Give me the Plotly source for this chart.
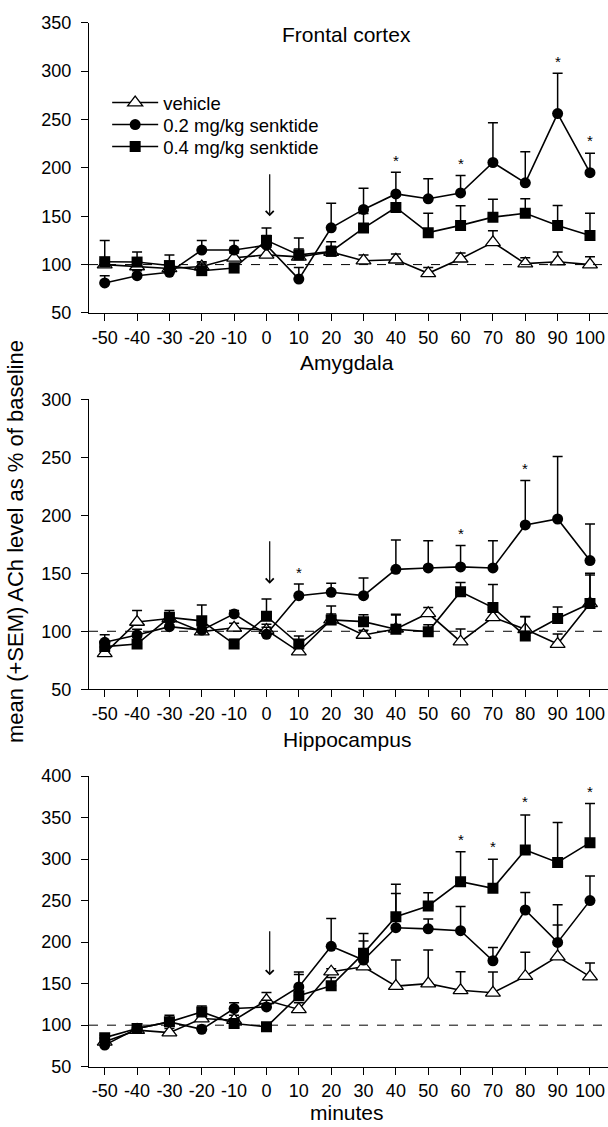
import plotly.graph_objects as go

minutes = [-50, -40, -30, -20, -10, 0, 10, 20, 30, 40, 50, 60, 70, 80, 90, 100]
x_tick_labels = ["-50", "-40", "-30", "-20", "-10", "0", "10", "20", "30", "40", "50", "60", "70", "80", "90", "100"]
series_names = ["vehicle", "0.2 mg/kg senktide", "0.4 mg/kg senktide"]
region_titles = ["Frontal cortex", "Amygdala", "Hippocampus"]

# Frontal cortex
fc_vehicle = [100, 98, 96, 98, 107, 110, 108, 113, 104, 105, 91, 106, 123, 101, 103, 100]
fc_vehicle_sem = [5, 4, 4, 5, 5, 8, 8, 6, 6, 6, 6, 6, 12, 6, 10, 8]
fc_low = [81, 88.5, 92, 115, 115, 120, 85, 138, 157, 173, 168, 174, 205.5, 184.5, 256, 195]
fc_low_sem = [7.5, 5, 4, 10, 10, 10, 12, 25.5, 22, 22.5, 20.6, 18, 41, 32, 41.7, 20]
fc_high = [103, 102.6, 99, 93.7, 96.4, 125, 110, 113.6, 137.7, 159, 133, 140.5, 149, 153, 140.5, 130]
fc_high_sem = [22, 10.4, 11, 8, 5, 12.7, 17.4, 10, 15, 12, 20, 20.3, 18.6, 15, 20.5, 23]

# Amygdala
am_vehicle = [81, 108, 111, 99.7, 103, 101, 82.5, 110, 96.8, 102, 115.5, 91, 112, 101.7, 89, 124]
am_vehicle_sem = [5, 10, 4, 4, 4, 5, 5, 5, 4, 12, 5, 11, 6, 11, 8.7, 24.5]
am_low = [90.5, 96.8, 104, 101, 115, 97.4, 130.7, 133.6, 130.7, 153.4, 154.6, 155.5, 154.6, 191.7, 196.8, 161]
am_low_sem = [6.5, 5, 4, 5, 3, 6, 10, 7.8, 15.3, 25.3, 23.4, 18.5, 23.4, 38.3, 53.8, 31.5]
am_high = [86.8, 89, 112, 109, 89, 113, 89, 109.8, 108.3, 101.7, 99.7, 134, 120.4, 96, 111, 124]
am_high_sem = [5, 6, 6, 13.7, 4, 14.9, 7, 12, 6, 13, 6, 8, 20, 16.6, 10, 26]

# Hippocampus
hc_vehicle = [80, 94, 91, 108, 106, 130, 119, 164.4, 170.4, 147, 150, 142, 139, 159, 182.5, 158.4]
hc_vehicle_sem = [4, 4, 5, 6, 6, 9.5, 8, 3.6, 6, 31.5, 40.5, 22.4, 25, 28.7, 38, 16.6]
hc_low = [76, 96, 104, 95, 120, 122, 146, 195, 178.5, 217.4, 216, 213.8, 177.6, 238.7, 199.7, 250]
hc_low_sem = [3, 3, 5, 3, 7, 8, 18, 33.6, 23, 41.3, 12, 29, 16, 21, 45.3, 29.6]
hc_high = [85, 96, 104, 116, 102, 98, 135.5, 147.5, 186.5, 230.6, 243.5, 272.8, 264.8, 311, 296, 319.8]
hc_high_sem = [3, 3, 8, 7, 4, 3, 25.5, 10, 24, 39, 16, 36, 35, 42, 48, 47]

# significance stars (x, y) per panel
fc_stars_x = [40, 60, 90, 100]
fc_stars_y = [212, 209, 314, 232]
am_stars_x = [10, 60, 80]
am_stars_y = [154, 188, 244]
hc_stars_x = [60, 70, 80, 100]
hc_stars_y = [329, 320, 374, 386]

# injection arrow (x, top, tip) per panel
fc_arrow = [1, 195, 150]
am_arrow = [1, 179, 141]
hc_arrow = [1, 215, 160]

y_ranges = [[50, 350], [50, 300], [50, 400]]
y_domains = [[0.7223, 0.9799], [0.3884, 0.6457], [0.0535, 0.3114]]
x_range = [-54.86, 105.57]

panels = [
    (fc_vehicle, fc_vehicle_sem, fc_low, fc_low_sem, fc_high, fc_high_sem, fc_stars_x, fc_stars_y, fc_arrow),
    (am_vehicle, am_vehicle_sem, am_low, am_low_sem, am_high, am_high_sem, am_stars_x, am_stars_y, am_arrow),
    (hc_vehicle, hc_vehicle_sem, hc_low, hc_low_sem, hc_high, hc_high_sem, hc_stars_x, hc_stars_y, hc_arrow),
]

FONT = "Liberation Sans, Arial, sans-serif"
TICK_SIZE = 18
TITLE_SIZE = 21
fig = go.Figure()
markers = [
    dict(symbol="triangle-up", size=13, color="white", line=dict(color="black", width=1.3)),
    dict(symbol="circle", size=11, color="black", line=dict(color="black", width=0)),
    dict(symbol="square", size=11, color="black", line=dict(color="black", width=0)),
]
legend_names = ["legend", "legend2", "legend3"]
legend_rows_y = [1 - 103 / 1127, 1 - 125 / 1127, 1 - 147 / 1127]
annotations = []
shapes = []
for i, p in enumerate(panels):
    xa = "x" if i == 0 else f"x{i+1}"
    ya = "y" if i == 0 else f"y{i+1}"
    means = [p[0], p[2], p[4]]
    sems = [p[1], p[3], p[5]]
    for k in range(3):
        fig.add_trace(go.Scatter(
            x=minutes, y=means[k], mode="lines+markers", name=series_names[k],
            xaxis=xa, yaxis=ya, showlegend=(i == 0), legend=legend_names[k],
            line=dict(color="black", width=1.6),
            marker=markers[k],
            error_y=dict(type="data", symmetric=False, array=sems[k],
                         arrayminus=[0] * len(minutes), color="black",
                         thickness=1.5, width=5),
        ))
    for sx, sy in zip(p[6], p[7]):
        annotations.append(dict(x=sx, y=sy, xref=xa, yref=ya, text="*", showarrow=False,
                                xanchor="center", yanchor="middle",
                                font=dict(family=FONT, size=15, color="black"), yshift=-4))
    ar = p[8]
    annotations.append(dict(x=ar[0], y=ar[2], ax=ar[0], ay=ar[1], xref=xa, yref=ya,
                            axref=xa, ayref=ya, text="", showarrow=True, arrowhead=4,
                            arrowsize=1.3, arrowwidth=1.2, arrowcolor="black"))
    shapes.append(dict(type="line", xref=xa, yref=ya, x0=x_range[0], x1=x_range[1],
                       y0=100, y1=100, line=dict(color="black", width=1, dash="dash")))

title_y = [1 - 35 / 1127, 1 - 362 / 1127, 1 - 739 / 1127]
for t, ty in zip(region_titles, title_y):
    annotations.append(dict(x=0.497, y=ty, xref="paper", yref="paper", text=t, showarrow=False,
                            xanchor="center", yanchor="middle",
                            font=dict(family=FONT, size=TITLE_SIZE, color="black")))
annotations.append(dict(x=0.497, y=1 - 1112 / 1127, xref="paper", yref="paper", text="minutes",
                        showarrow=False, xanchor="center", yanchor="middle",
                        font=dict(family=FONT, size=TITLE_SIZE, color="black")))
annotations.append(dict(x=(15 - 89) / 519, y=1 - 542 / 1127, xref="paper", yref="paper",
                        text="mean (+SEM) ACh level as % of baseline", textangle=-90,
                        showarrow=False, xanchor="center", yanchor="middle",
                        font=dict(family=FONT, size=22, color="black")))

layout = dict(
    width=608, height=1127, margin=dict(l=89, r=0, t=0, b=0, autoexpand=False),
    paper_bgcolor="white", plot_bgcolor="white",
    font=dict(family=FONT, size=TICK_SIZE, color="black"),
    annotations=annotations, shapes=shapes,
)
for k, ln in enumerate(legend_names):
    layout[ln] = dict(x=0.035, y=legend_rows_y[k], xanchor="left", yanchor="middle",
                      bgcolor="rgba(0,0,0,0)", itemwidth=46,
                      font=dict(family=FONT, size=18.5, color="black"))
for i in range(3):
    xk = "xaxis" if i == 0 else f"xaxis{i+1}"
    yk = "yaxis" if i == 0 else f"yaxis{i+1}"
    ya = "y" if i == 0 else f"y{i+1}"
    xa = "x" if i == 0 else f"x{i+1}"
    layout[xk] = dict(domain=[0, 1], anchor=ya, range=x_range, tickvals=minutes,
                      ticktext=x_tick_labels,
                      ticks="outside", ticklen=7, tickwidth=1.3, tickcolor="black",
                      showline=True, linecolor="black", linewidth=1.3, showgrid=False,
                      zeroline=False, tickfont=dict(size=TICK_SIZE), ticklabelstandoff=1)
    layout[yk] = dict(domain=y_domains[i], anchor=xa, range=y_ranges[i], dtick=50,
                      ticks="outside", ticklen=7, tickwidth=1.3, tickcolor="black",
                      showline=True, linecolor="black", linewidth=1.3, showgrid=False,
                      zeroline=False, tickfont=dict(size=TICK_SIZE), ticklabelstandoff=6)
fig.update_layout(**layout)
fig.write_html("out.html")
